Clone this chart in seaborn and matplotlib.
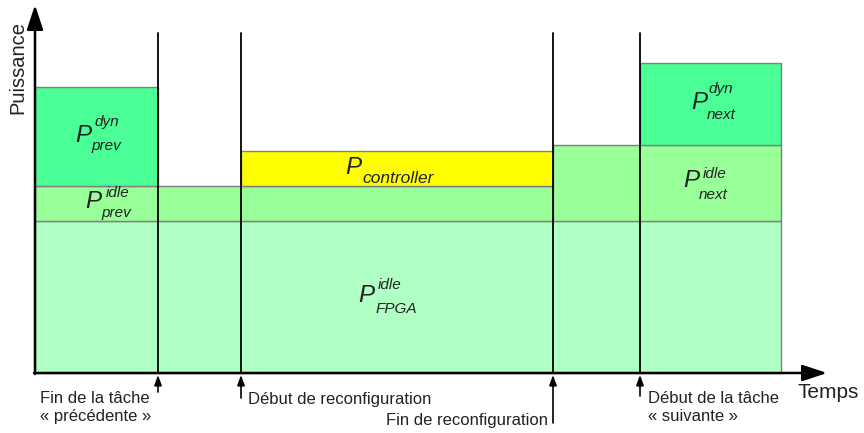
import matplotlib
matplotlib.use("Agg")
import matplotlib.pyplot as plt
import seaborn as sns

# instants (time axis origin at the power axis)
event_times = [123, 206, 518, 605]
t_end = 746
event_labels = ["Fin de la tâche\n« précédente »", "Début de reconfiguration",
                "Fin de reconfiguration", "Début de la tâche\n« suivante »"]

# power levels (stack heights)
p_fpga_idle = 152
p_prev_idle = 35
p_prev_dyn = 99
p_controller = 35
p_next_idle = 76
p_next_dyn = 82

col_fpga = "#b0ffc4"
col_idle = "#99ff99"
col_dyn = "#4aff96"
col_ctrl = "#ffff00"

TXT = "#222222"


def power_label(ax, x, y, sup, sub, sup_off, sub_off, sub_size=11):
    # big italic P with separately placed super/subscripts (offsets in pixels)
    ax.text(x, y, "P", fontsize=17.5, style="italic", color=TXT, ha="left", va="baseline")
    if sup:
        ax.annotate(sup, xy=(x, y), xytext=sup_off, textcoords="offset pixels",
                    fontsize=11, style="italic", color=TXT, ha="left", va="baseline")
    ax.annotate(sub, xy=(x, y), xytext=sub_off, textcoords="offset pixels",
                fontsize=sub_size, style="italic", color=TXT, ha="left", va="baseline")


def main():
    sns.set_style("white")
    plt.rcParams["font.family"] = ["Liberation Sans", "DejaVu Sans"]

    fig = plt.figure(figsize=(8.64, 4.33), dpi=100)
    ax = fig.add_axes([0, 0, 1, 1])
    ax.set_xlim(-35, 829)
    ax.set_ylim(-60, 373)
    ax.axis("off")

    t1, t2, t3, t4 = event_times
    ec = dict(edgecolor="#7f7f7f", linewidth=1, align="edge")

    # stacked power blocks
    ax.bar(0, p_fpga_idle, width=t_end, color=col_fpga, **ec)
    ax.bar(0, p_prev_idle, width=t3, bottom=p_fpga_idle, color=col_idle, **ec)
    ax.bar(0, p_prev_dyn, width=t1, bottom=p_fpga_idle + p_prev_idle, color=col_dyn, **ec)
    ax.bar(t2, p_controller, width=t3 - t2, bottom=p_fpga_idle + p_prev_idle, color=col_ctrl, **ec)
    ax.bar(t3, p_next_idle, width=t_end - t3, bottom=p_fpga_idle, color=col_idle, **ec)
    ax.bar(t4, p_next_dyn, width=t_end - t4, bottom=p_fpga_idle + p_next_idle, color=col_dyn, **ec)

    # vertical event lines
    for t in event_times:
        ax.plot([t, t], [0, 340], color="black", lw=1.3, zorder=3)

    # axes arrows
    big = dict(arrowstyle="-|>,head_length=1.5,head_width=0.5", color="black", lw=1.8,
               mutation_scale=10, shrinkA=0, shrinkB=0)
    ax.annotate("", xy=(0, 368), xytext=(0, -1), arrowprops=big, zorder=4)
    ax.annotate("", xy=(792, 0), xytext=(-1, 0), arrowprops=big, zorder=4)

    small = dict(arrowstyle="-|>,head_length=0.6,head_width=0.22", color="black", lw=1.2,
                 mutation_scale=10, shrinkA=0, shrinkB=0)
    arrow_len = [19, 25, 50, 23]
    for t, L in zip(event_times, arrow_len):
        ax.annotate("", xy=(t, -2), xytext=(t, -L), arrowprops=small)

    txt = dict(fontsize=12, color=TXT, linespacing=1.27, va="baseline")
    ax.text(5, -48, event_labels[0], ha="left", **txt)
    ax.text(213, -31, event_labels[1], ha="left", **txt)
    ax.text(513, -52, event_labels[2], ha="right", **txt)
    ax.text(613, -48, event_labels[3], ha="left", **txt)

    ax.text(-17, 305, "Puissance", rotation=90, ha="center", va="center", fontsize=14.5, color=TXT)
    ax.text(763, -19, "Temps", ha="left", va="center", fontsize=15, color=TXT)

    power_label(ax, 40, 231, "dyn", "prev", (19, 16), (16, -8))
    power_label(ax, 50, 165, "idle", "prev", (21, 11), (16, -9))
    power_label(ax, 310, 199, None, "controller", None, (17, -9), sub_size=12.5)
    power_label(ax, 323, 71, "idle", "FPGA", (20, 13), (18, -11))
    power_label(ax, 656, 264, "dyn", "next", (17, 16), (16, -10))
    power_label(ax, 648, 186, "idle", "next", (20, 9), (16, -12))

    fig.savefig("out.png", dpi=100)


if __name__ == "__main__":
    main()
